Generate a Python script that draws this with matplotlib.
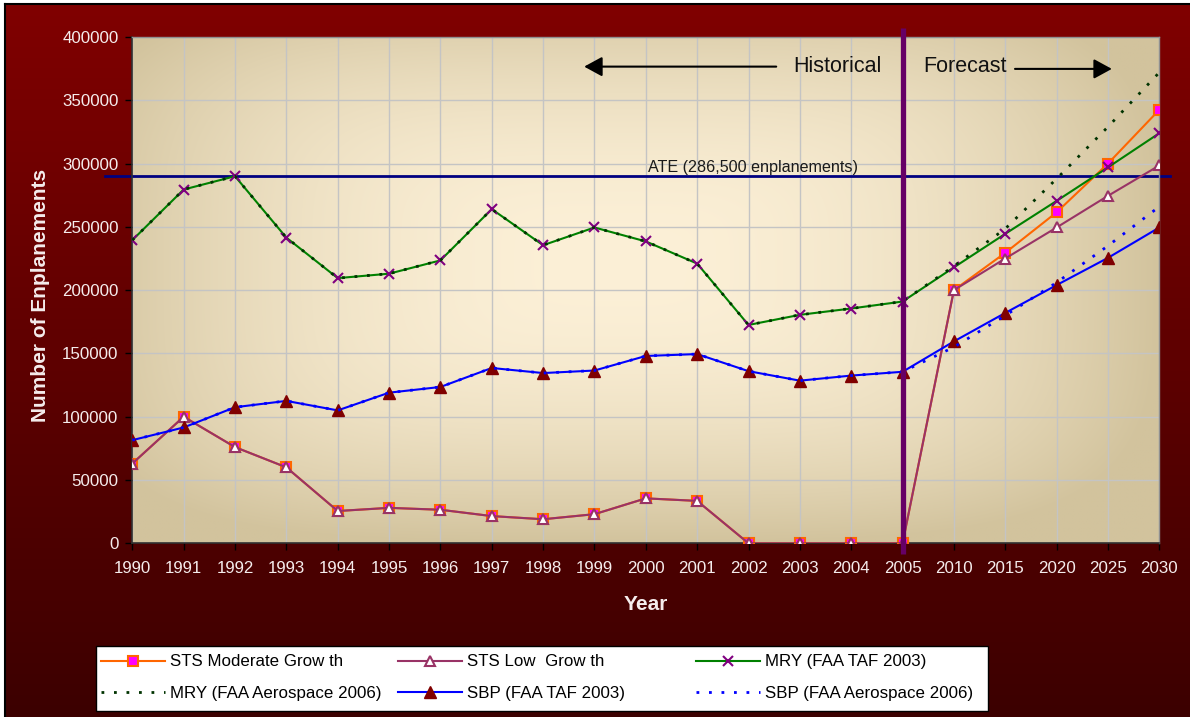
import numpy as np
import matplotlib
matplotlib.use('Agg')
import matplotlib.pyplot as plt
import matplotlib.transforms as mtransforms
from matplotlib.patches import Rectangle

# ---------------- data ----------------
years = ['1990', '1991', '1992', '1993', '1994', '1995', '1996', '1997', '1998', '1999',
         '2000', '2001', '2002', '2003', '2004', '2005', '2010', '2015', '2020', '2025', '2030']

sts_moderate = [63000, 100000, 76000, 60000, 25500, 28000, 26500, 21500, 19000, 23000,
                35500, 33500, 0, 0, 0, 0, 200000, 229500, 261500, 300000, 342500]
sts_low = [63000, 100000, 76000, 60000, 25500, 28000, 26500, 21500, 19000, 23000,
           35500, 33500, 0, 0, 0, 0, 200000, 225000, 249500, 274500, 298500]
mry_taf = [239500, 279500, 290000, 241500, 209500, 213000, 223500, 264000, 235500, 249500,
           238500, 221000, 172500, 180500, 185500, 191000, 218000, 244500, 270500, 297000, 324000]
mry_aero = [239500, 279500, 290000, 241500, 209500, 213000, 223500, 264000, 235500, 249500,
            238500, 221000, 172500, 180500, 185500, 191000, 219000, 248500, 288000, 329000, 372000]
sbp_taf = [81500, 91500, 107500, 112500, 105000, 119000, 123500, 138500, 134500, 136500,
           148000, 149500, 136000, 128500, 132500, 135500, 159500, 182000, 204000, 225500, 249500]
sbp_aero = [81500, 91500, 107500, 112500, 105000, 119000, 123500, 138500, 134500, 136500,
            148000, 149500, 136000, 128500, 132500, 135500, 155000, 180000, 206000, 235000, 266000]

ate_value = 290000
ate_label = 'ATE (286,500 enplanements)'
forecast_start = '2005'
yticks = [0, 50000, 100000, 150000, 200000, 250000, 300000, 350000, 400000]

labels = ['STS Moderate Grow th', 'STS Low  Grow th', 'MRY (FAA TAF 2003)',
          'MRY (FAA Aerospace 2006)', 'SBP (FAA TAF 2003)', 'SBP (FAA Aerospace 2006)']

# ---------------- style ----------------
REG = ['Liberation Sans', 'DejaVu Sans']
plt.rcParams['font.family'] = REG
txt_col = '#f5ecec'

W, H = 1190, 717
fig = plt.figure(figsize=(W / 100, H / 100), dpi=100, facecolor='white')

# figure background (dark red vertical gradient) in pixel coordinates
bg = fig.add_axes([0, 0, 1, 1], zorder=-10)
bg.set_xlim(0, W)
bg.set_ylim(H, 0)
bg.set_axis_off()
g = np.linspace(0, 1, 256)[:, None, None]
c_top = np.array([0x80, 0x00, 0x00]) / 255.0
c_bot = np.array([0x3c, 0x00, 0x00]) / 255.0
img = c_top * (1 - g) + c_bot * g
img = np.repeat(img, 2, axis=1)
bg.imshow(img, extent=[5, W, H, 4], aspect='auto', interpolation='bilinear')
bg.plot([5, 5], [4, H], color='black', lw=1.5)
bg.plot([5, W], [4, 4], color='black', lw=1.5)
bg.add_patch(Rectangle((96, 646), 892, 65, facecolor='white', edgecolor='black', lw=1))

# main axes
L, B, R, T = 132.3, 543.3, 1159.3, 37.0
ax = fig.add_axes([L / W, 1 - B / H, (R - L) / W, (B - T) / H])
ax.set_facecolor('none')

# plot-area gradient (light centre, darker edges)
nu, nv = 500, 300
u = np.linspace(0, 1, nu)[None, :]
v = np.linspace(0, 1, nv)[:, None]
p = 4.0
s = ((np.abs(u - 0.47) / 0.53) ** p + (np.abs(v - 0.55) / 0.55) ** p) ** (1 / p)
t = np.clip(s, 0, 1) ** 2
light = np.array([0xfc, 0xf0, 0xd7]) / 255.0
dark = np.array([0xd2, 0xc3, 0x9d]) / 255.0
pimg = light * (1 - t[..., None]) + dark * t[..., None]
ax.imshow(pimg, extent=[0, 1, 0, 1], transform=ax.transAxes, origin='lower',
          aspect='auto', zorder=-1, interpolation='bilinear')

x = np.arange(len(years))

l1, = ax.plot(x, sts_moderate, color='#ff6600', lw=1.5, marker='s', ms=7,
              mfc='#ff00ff', mec='#ff6600', mew=1.5, zorder=3, label=labels[0])
l2, = ax.plot(x, sts_low, color='#993366', lw=1.5, marker='^', ms=7.5,
              mfc='white', mec='#993366', mew=1.5, zorder=4, label=labels[1])
l3, = ax.plot(x, mry_taf, color='#008000', lw=1.5, marker='x', ms=7.5,
              mec='#800080', mew=1.5, zorder=5, label=labels[2])
l4, = ax.plot(x, mry_aero, color='#003300', lw=2.0, ls=(0, (1, 3.5)), zorder=6,
              label=labels[3])
l5, = ax.plot(x, sbp_taf, color='#0000ff', lw=1.5, marker='^', ms=8.5,
              mfc='#800000', mec='#800000', mew=1, zorder=7, label=labels[4])
l6, = ax.plot(x, sbp_aero, color='#0000ff', lw=2.0, ls=(0, (1, 3.5)), zorder=8,
              label=labels[5])

ax.set_xlim(0, len(years) - 1)
ax.set_ylim(0, 400000)
ax.set_xticks(x)
ax.set_xticklabels(years)
ax.set_yticks(yticks)
ax.set_yticklabels([str(v_) for v_ in yticks])
for lab in ax.get_xticklabels() + ax.get_yticklabels():
    lab.set_fontsize(12.2)
    lab.set_color(txt_col)
ax.tick_params(axis='both', direction='out', length=5, width=1, color='black')
ax.tick_params(axis='x', pad=8)
ax.tick_params(axis='y', pad=5)

ax.grid(True, color='#c4c4c4', lw=1)
ax.set_axisbelow(True)
for side in ['left', 'bottom']:
    ax.spines[side].set_color('#303030')
    ax.spines[side].set_linewidth(1.2)
for side in ['top', 'right']:
    ax.spines[side].set_color('#909090')
    ax.spines[side].set_linewidth(1)

# ATE reference line (extends past the plot area)
tr_ax_data = mtransforms.blended_transform_factory(ax.transAxes, ax.transData)
ax.plot([-0.0266, 1.0104], [ate_value, ate_value], transform=tr_ax_data,
        color='#000080', lw=2, clip_on=False, zorder=2.5)
ax.text(0.604, ate_value + 1000, ate_label, transform=tr_ax_data, ha='center', va='bottom',
        color='#1a1a1a', fontsize=11.6)

# historical / forecast divider
xf = years.index(forecast_start)
tr_data_ax = mtransforms.blended_transform_factory(ax.transData, ax.transAxes)
ax.plot([xf, xf], [-0.021, 1.018], transform=tr_data_ax, color='#660066', lw=3.8,
        clip_on=False, zorder=10, solid_capstyle='butt')

ax.text(0.687, 0.941, 'Historical', transform=ax.transAxes, ha='center', va='center',
        fontsize=15.5, color='#111111')
ax.text(0.8106, 0.941, 'Forecast', transform=ax.transAxes, ha='center', va='center',
        fontsize=15.5, color='#111111')
arrow_kw = dict(arrowstyle='-|>,head_length=0.55,head_width=0.3', color='black', lw=1.5,
                mutation_scale=20, shrinkA=0, shrinkB=0)
ax.annotate('', xy=(0.440, 0.9415), xytext=(0.627, 0.9415), xycoords='axes fraction',
            arrowprops=arrow_kw)
ax.annotate('', xy=(0.9538, 0.937), xytext=(0.8595, 0.937), xycoords='axes fraction',
            arrowprops=arrow_kw)

ax.set_xlabel('Year', fontsize=15, fontweight='bold', color=txt_col)
ax.xaxis.label.set_va('center')
ax.xaxis.set_label_coords((646 - L) / (R - L), (B - 604) / (B - T))
ax.set_ylabel('Number of Enplanements', fontsize=15, fontweight='bold', color=txt_col)
ax.yaxis.label.set_va('center')
ax.yaxis.set_label_coords((40.5 - L) / (R - L), (B - 295) / (B - T))

# legend: three columns of equal width
cols = [([l1, l4], 101), ([l2, l5], 398), ([l3, l6], 696)]
for handles, xpx in cols:
    lg = fig.legend(handles=handles, loc='center left',
                    bbox_to_anchor=(xpx / W, 1 - 677.5 / H), frameon=False, fontsize=12.2,
                    handlelength=3.8, handletextpad=0.3, labelspacing=0.95,
                    borderpad=0, borderaxespad=0, numpoints=1)
    for tx in lg.get_texts():
        tx.set_color('black')

fig.savefig('out.png', dpi=100, facecolor=fig.get_facecolor())
